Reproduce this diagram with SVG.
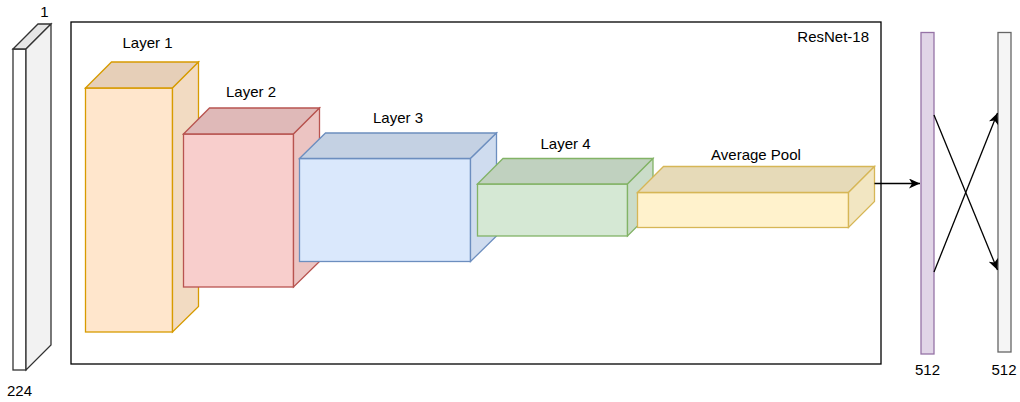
<svg xmlns="http://www.w3.org/2000/svg" width="1020" height="402" viewBox="0 0 1020 402">
  <style>
    text { font-family: "Liberation Sans", Arial, sans-serif; font-size: 15px; fill: #000; }
    .mid { text-anchor: middle; }
    .end { text-anchor: end; }
    .edge { stroke-width: 1.3; stroke-linejoin: miter; }
    .input { stroke: #333333; }
    .l1 { stroke: #d79b00; }
    .l2 { stroke: #b85450; }
    .l3 { stroke: #6c8ebf; }
    .l4 { stroke: #82b366; }
    .pool { stroke: #d6b656; }
    .conn { fill: none; stroke: #000; stroke-width: 1.3; marker-end: url(#arrow); }
  </style>
  <defs>
    <marker id="arrow" markerUnits="userSpaceOnUse" markerWidth="12" markerHeight="11" refX="11" refY="5" orient="auto">
      <path d="M0,0 L11,5 L0,10 L3,5 Z" fill="#000"/>
    </marker>
  </defs>

  <!-- input image slab 224 x 224 x 1 -->
  <g id="input">
    <rect class="edge input" x="13" y="49" width="13" height="321" fill="#ffffff"/>
    <polygon class="edge input" points="13,49 38,24 51,24 26,49" fill="#e6e6e6"/>
    <polygon class="edge input" points="26,49 51,24 51,345 26,370" fill="#f2f2f2"/>
    <text class="mid" x="44.5" y="16.5">1</text>
    <text class="mid" x="19.5" y="395.5">224</text>
  </g>

  <!-- backbone frame -->
  <g id="resnet">
    <rect x="71" y="22" width="810" height="342" fill="none" stroke="#000" stroke-width="1.3"/>
    <text class="end" x="869" y="42">ResNet-18</text>
  </g>

  <g id="layer1">
    <rect class="edge l1" x="85.5" y="88" width="87" height="244" fill="#ffe6cc"/>
    <polygon class="edge l1" points="85.5,88 111.5,62 198.5,62 172.5,88" fill="#e6cfb8"/>
    <polygon class="edge l1" points="172.5,88 198.5,62 198.5,306.5 172.5,332" fill="#f2dbc2"/>
    <text class="mid" x="147.5" y="48">Layer 1</text>
  </g>

  <g id="layer2">
    <rect class="edge l2" x="183.5" y="134" width="110" height="153" fill="#f8cecc"/>
    <polygon class="edge l2" points="183.5,134 209.5,108 319.5,108 293.5,134" fill="#dfb9b8"/>
    <polygon class="edge l2" points="293.5,134 319.5,108 319.5,261.5 293.5,287" fill="#ecc4c2"/>
    <text class="mid" x="251" y="97">Layer 2</text>
  </g>

  <g id="layer3">
    <rect class="edge l3" x="299.5" y="158.5" width="171" height="103" fill="#dae8fc"/>
    <polygon class="edge l3" points="299.5,158.5 325.5,133 496.5,133 470.5,158.5" fill="#c4d1e3"/>
    <polygon class="edge l3" points="470.5,158.5 496.5,133 496.5,236 470.5,261.5" fill="#cfdcef"/>
    <text class="mid" x="398" y="122.5">Layer 3</text>
  </g>

  <g id="layer4">
    <rect class="edge l4" x="477.5" y="184" width="150" height="52" fill="#d5e8d4"/>
    <polygon class="edge l4" points="477.5,184 503,158.5 653,158.5 627.5,184" fill="#c0d1bf"/>
    <polygon class="edge l4" points="627.5,184 653,158.5 653,210.5 627.5,236" fill="#cadcc9"/>
    <text class="mid" x="565.5" y="149">Layer 4</text>
  </g>

  <g id="avgpool">
    <rect class="edge pool" x="637.5" y="192.5" width="211" height="35" fill="#fff2cc"/>
    <polygon class="edge pool" points="637.5,192.5 663.5,166.5 874.5,166.5 848.5,192.5" fill="#e6dab8"/>
    <polygon class="edge pool" points="848.5,192.5 874.5,166.5 874.5,201.5 848.5,227.5" fill="#f2e6c2"/>
    <text class="mid" x="756" y="160">Average Pool</text>
  </g>

  <g id="fc-in">
    <rect x="921" y="32.5" width="13" height="321.5" fill="#e1d5e7" stroke="#9673a6" stroke-width="1.3"/>
    <text class="mid" x="927.5" y="375">512</text>
  </g>

  <g id="fc-out">
    <rect x="998" y="32.5" width="13" height="319.5" fill="#f5f5f5" stroke="#666666" stroke-width="1.3"/>
    <text class="mid" x="1004" y="375">512</text>
  </g>

  <g id="connectors">
    <line class="conn" x1="874.5" y1="183.5" x2="920" y2="183.5"/>
    <line class="conn" x1="934" y1="115" x2="997.5" y2="270"/>
    <line class="conn" x1="934" y1="272" x2="997.5" y2="113"/>
  </g>
</svg>
